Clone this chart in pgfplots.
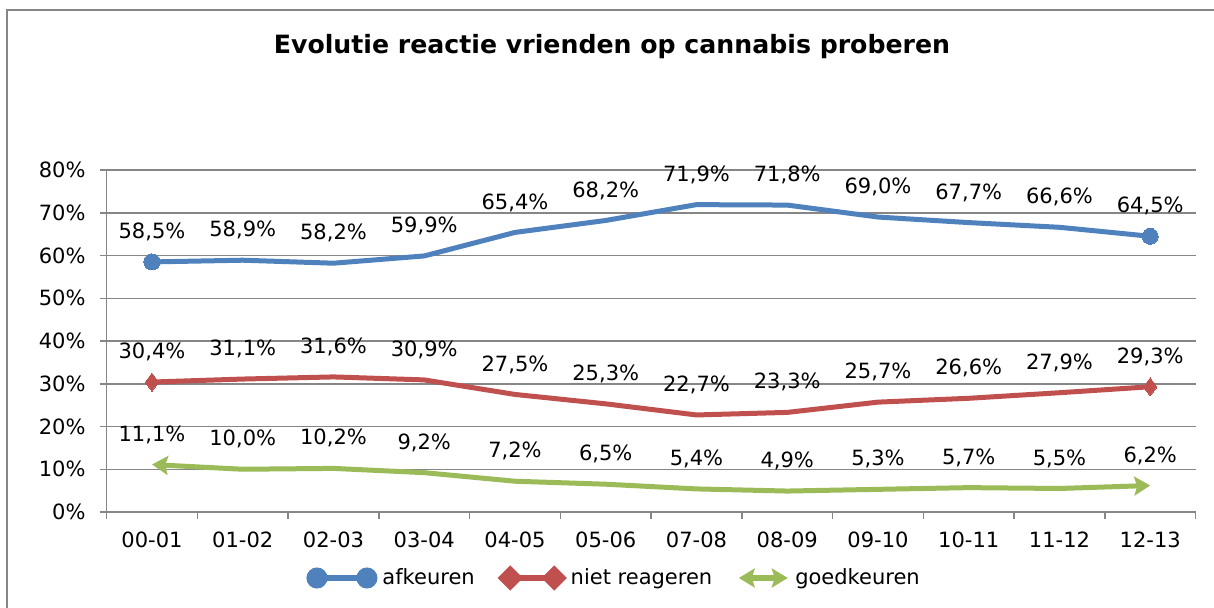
\documentclass[border=0pt]{standalone}
\usepackage{fontspec}
\setmainfont{DejaVu Sans}
\usepackage{pgfplots}
\pgfplotsset{compat=1.18}
\usetikzlibrary{arrows.meta}
\definecolor{cblue}{RGB}{79,129,189}
\definecolor{cred}{RGB}{192,80,77}
\definecolor{cgreen}{RGB}{155,187,89}
\definecolor{cgrid}{RGB}{134,134,134}

\begin{document}
\begin{tikzpicture}
\useasboundingbox (0,0) rectangle (607bp,304bp);
\draw[cgrid, line width=1bp] (3.5bp,-5bp) -- (3.5bp,299bp) -- (615bp,299bp);
\node[font=\fontsize{12.6bp}{15bp}\selectfont\bfseries] at (306bp,280.5bp) {Evolutie reactie vrienden op cannabis proberen};
\begin{axis}[
    at={(53.3bp,48bp)}, anchor=south west,
    scale only axis,
    width=544.5bp, height=171bp,
    xmin=-0.5, xmax=11.5,
    ymin=0, ymax=80,
    xtick={0,...,11},
    xticklabels={00-01,01-02,02-03,03-04,04-05,05-06,07-08,08-09,09-10,10-11,11-12,12-13},
    minor xtick={-0.5,0.5,...,11.5},
    major x tick style={draw=none},
    ytick={0,10,...,80},
    yticklabel={\pgfmathprintnumber[assume math mode=true]{\tick}\%},
    tick label style={font=\fontsize{10.5bp}{12.6bp}\selectfont},
    xticklabel style={yshift=-3bp},
    yticklabel style={xshift=-3.5bp},
    tick align=outside,
    major tick length=3.5bp, minor tick length=3.5bp,
    tick style={cgrid, line width=0.75bp},
    ymajorgrids,
    grid style={cgrid, line width=0.75bp},
    axis x line*=bottom, axis y line*=left,
    axis line style={cgrid, line width=0.75bp, -},
    every node near coord/.style={anchor=center, yshift=15bp, text=black, font=\fontsize{10.5bp}{12.6bp}\selectfont},
    legend style={at={(0.5,0)}, anchor=center, xshift=-18bp, yshift=-33bp, draw=none, fill=none,
        font=\fontsize{10.5bp}{12.6bp}\selectfont, inner sep=0pt,
        /tikz/every odd column/.append style={column sep=0.5bp},
        /tikz/every even column/.append style={column sep=10bp}},
    legend columns=-1,
]
% data labels on the lines, end markers drawn as separate plots
\pgfplotsset{lbl/.style={nodes near coords={\pgfmathprintnumber[fixed, fixed zerofill, precision=1, use comma, assume math mode=true]{\pgfplotspointmeta}\%}}}
\addplot[cblue, line width=2.5bp, lbl,
    legend image code/.code={
        \draw[cblue, line width=2.5bp] (0bp,0bp) -- (25bp,0bp);
        \fill[cblue] (0bp,0bp) circle (4bp);
        \fill[cblue] (25bp,0bp) circle (4bp);}]
coordinates {(0,58.5) (1,58.9) (2,58.2) (3,59.9) (4,65.4) (5,68.2) (6,71.9) (7,71.8) (8,69.0) (9,67.7) (10,66.6) (11,64.5)};
\addlegendentry{afkeuren}
\addplot[cred, line width=2.5bp, lbl,
    legend image code/.code={
        \draw[cred, line width=2.5bp] (0bp,0bp) -- (22bp,0bp);
        \fill[cred] (-4.5bp,0bp) -- (0bp,4.5bp) -- (4.5bp,0bp) -- (0bp,-4.5bp) -- cycle;
        \fill[cred] (17.5bp,0bp) -- (22bp,4.5bp) -- (26.5bp,0bp) -- (22bp,-4.5bp) -- cycle;}]
coordinates {(0,30.4) (1,31.1) (2,31.6) (3,30.9) (4,27.5) (5,25.3) (6,22.7) (7,23.3) (8,25.7) (9,26.6) (10,27.9) (11,29.3)};
\addlegendentry{niet reageren}
\addplot[cgreen, line width=2.5bp, lbl, {Stealth[width=9.5bp, length=8bp, inset=1.5bp]}-{Stealth[width=9.5bp, length=8bp, inset=1.5bp]},
    legend image code/.code={
        \draw[cgreen, line width=2.5bp, {Stealth[width=9.5bp, length=8bp, inset=1.5bp]}-{Stealth[width=9.5bp, length=8bp, inset=1.5bp]}] (0bp,0bp) -- (24.5bp,0bp);}]
coordinates {(0,11.1) (1,10.0) (2,10.2) (3,9.2) (4,7.2) (5,6.5) (6,5.4) (7,4.9) (8,5.3) (9,5.7) (10,5.5) (11,6.2)};
\addlegendentry{goedkeuren}
\addplot[only marks, forget plot, mark=*, mark size=4bp, mark options={fill=cblue, draw=cblue, line width=0pt}]
coordinates {(0,58.5) (11,64.5)};
\addplot[only marks, forget plot, mark=diamond*, mark size=4.5bp, mark options={fill=cred, draw=cred, line width=0pt}]
coordinates {(0,30.4) (11,29.3)};
\end{axis}
\end{tikzpicture}
\end{document}
